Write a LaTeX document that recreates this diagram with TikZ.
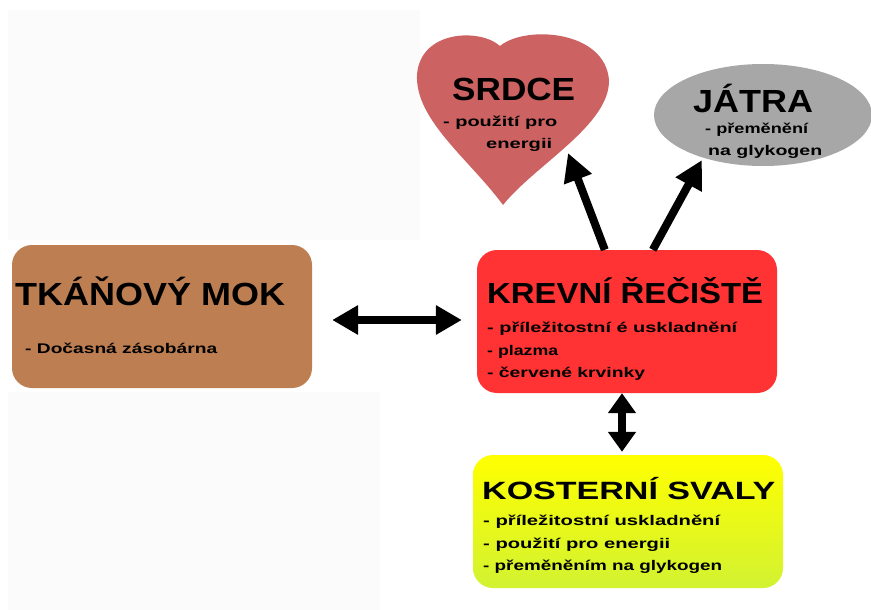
\documentclass[tikz,border=0pt]{standalone}
\usepackage{fontspec}
\setmainfont{Liberation Sans}
\usetikzlibrary{arrows.meta,calc,shapes.geometric}

% stretch a piece of text horizontally to a given width, keeping its height
\newcommand\fitto[2]{\resizebox{#1}{\height}{#2}}

\definecolor{tissuebrown}{RGB}{189,126,82}
\definecolor{bloodred}{RGB}{255,51,51}
\definecolor{heartred}{RGB}{204,98,98}
\definecolor{livergray}{RGB}{167,167,167}
\definecolor{muscletop}{RGB}{255,255,0}
\definecolor{musclebottom}{RGB}{210,242,50}
\definecolor{panel}{RGB}{251,251,251}

\begin{document}
\begin{tikzpicture}[x=1pt,y=-1pt,
  box/.style={draw=none, rounded corners=20pt, inner sep=0pt},
  lbl/.style={inner sep=0pt, anchor=base west},
  title/.style={lbl, font=\bfseries\fontsize{32}{32}\selectfont},
  note/.style={lbl, font=\bfseries\fontsize{14}{14}\selectfont},
  link/.style={line width=8pt, -{Triangle[length=28pt,width=28pt]}},
  twoway/.style={line width=8pt, {Triangle[length=26pt,width=28pt]}-{Triangle[length=26pt,width=28pt]}},
  twowayshort/.style={line width=8pt, {Triangle[length=20pt,width=27pt]}-{Triangle[length=20pt,width=27pt]}}
]
\useasboundingbox (0,0) rectangle (871,610);
\fill[white] (0,0) rectangle (871,610);

% faint background panels
\fill[panel] (8,10) rectangle (420,240);
\fill[panel] (8,392) rectangle (380,610);

% tissue fluid
\node[box, fill=tissuebrown, minimum width=300pt, minimum height=143pt] (tissue) at (162,316.5) {};
\node[title] (tissueT) at (15,305) {\fitto{270pt}{TKÁŇOVÝ MOK}};
\node[note] (tissueA) at (25,353) {\fitto{192pt}{- Dočasná zásobárna}};

% blood stream
\node[box, fill=bloodred, minimum width=300pt, minimum height=143pt] (blood) at (627,321.5) {};
\node[title, font=\bfseries\fontsize{29}{29}\selectfont] (bloodT) at (487,303) {\fitto{276pt}{KREVNÍ ŘEČIŠTĚ}};
\node[note] (bloodA) at (487,332) {\fitto{250pt}{- příležitostní é uskladnění}};
\node[note] (bloodB) at (487,355) {\fitto{71pt}{- plazma}};
\node[note] (bloodC) at (487,377) {\fitto{158pt}{- červené krvinky}};

% skeletal muscles
\node[box, top color=muscletop, bottom color=musclebottom, minimum width=310pt, minimum height=133pt] (muscle) at (628,521.5) {};
\node[title, font=\bfseries\fontsize{25}{25}\selectfont] (muscleT) at (482,499.5) {\fitto{293pt}{KOSTERNÍ SVALY}};
\node[note] (muscleA) at (483,525) {\fitto{237pt}{- příležitostní uskladnění}};
\node[note] (muscleB) at (483,548) {\fitto{187pt}{- použití pro energii}};
\node[note] (muscleC) at (483,570) {\fitto{239pt}{- přeměněním na glykogen}};

% heart
\fill[heartred] (500,46) .. controls (480,28) and (420,30) .. (417,75)
  .. controls (415,120) and (470,160) .. (503,205)
  .. controls (535,165) and (610,125) .. (609,80)
  .. controls (605,30) and (525,25) .. (500,46);
\coordinate (heart) at (568,153);
\node[title] (heartT) at (452,100) {\fitto{123pt}{SRDCE}};
\node[note] (heartA) at (443,127) {\fitto{114pt}{- použití pro}};
\node[note] (heartB) at (486,148) {\fitto{66pt}{energii}};

% liver
\node[ellipse, fill=livergray, minimum width=218pt, minimum height=102pt, inner sep=0pt] (liver) at (763,115) {};
\coordinate (liverIn) at (702,160);
\node[title] (liverT) at (693,113) {\fitto{120pt}{JÁTRA}};
\node[note] (liverA) at (705,133) {\fitto{103pt}{- přeměnění}};
\node[note] (liverB) at (708,155) {\fitto{114pt}{na glykogen}};

% connectors
\coordinate (outHeart) at ($(blood.north west)+(128,0)$);
\coordinate (outLiver) at ($(blood.north west)+(176,0)$);
\draw[link] (outHeart) -- (heart);
\draw[link] (outLiver) -- (liverIn);
\draw[twoway, shorten <=20pt, shorten >=15pt]
  ([yshift=-3.5pt]tissue.east) -- ([yshift=-3.5pt]tissue.east -| blood.west);
\draw[twowayshort, shorten >=3pt]
  ([xshift=-5pt]blood.south) -- ([xshift=-5pt]blood.south |- muscle.north);
\end{tikzpicture}
\end{document}
